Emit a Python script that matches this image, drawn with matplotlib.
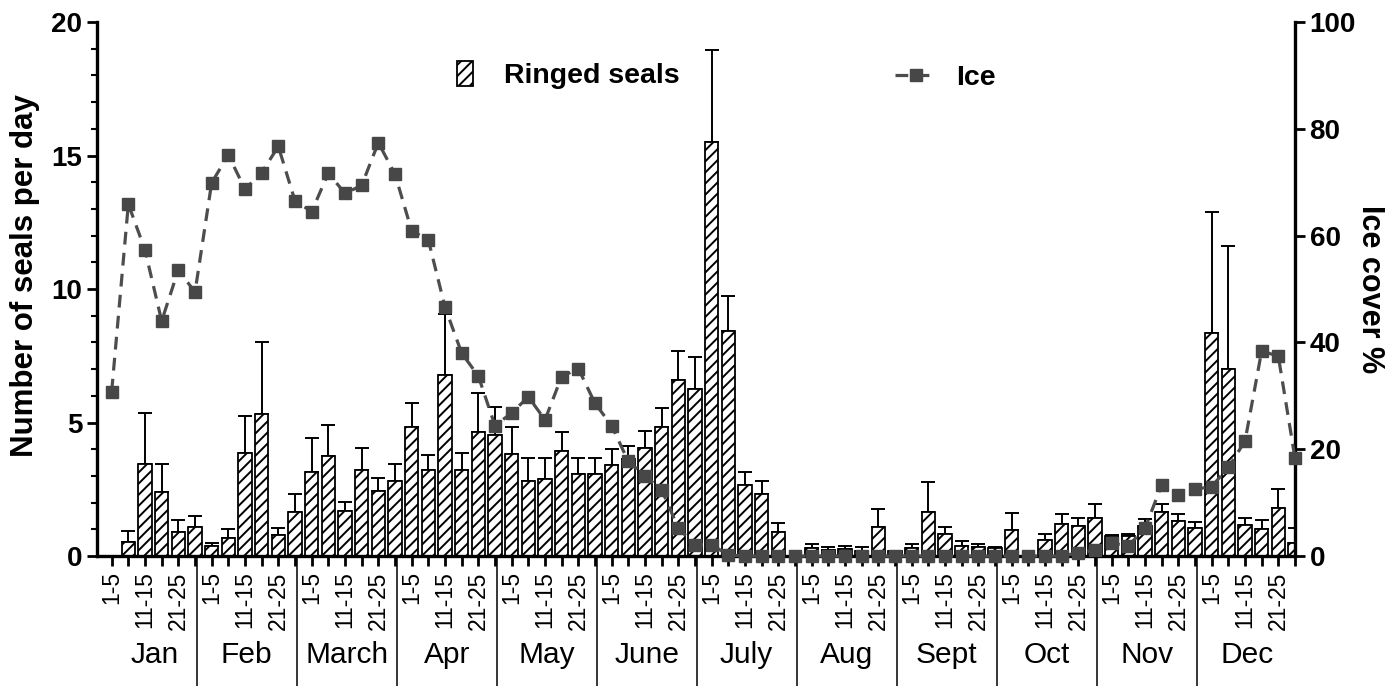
import numpy as np
import matplotlib
matplotlib.use("Agg")
import matplotlib.pyplot as plt
from matplotlib.patches import Patch
from matplotlib.lines import Line2D

months = ['Jan', 'Feb', 'March', 'Apr', 'May', 'June',
          'July', 'Aug', 'Sept', 'Oct', 'Nov', 'Dec']
pentads = ['1-5', '', '11-15', '', '21-25', '']

# mean number of ringed seals per day, per 5-day period
seals = [0.0, 0.54, 3.43, 2.41, 0.91, 1.10,
         0.36, 0.66, 3.85, 5.33, 0.79, 1.65,
         3.16, 3.75, 1.69, 3.21, 2.43, 2.81,
         4.83, 3.21, 6.78, 3.21, 4.66, 4.53,
         3.81, 2.81, 2.87, 3.93, 3.06, 3.08,
         3.41, 3.65, 4.03, 4.83, 6.59, 6.24,
         15.5, 8.43, 2.65, 2.31, 0.91, 0.0,
         0.29, 0.21, 0.25, 0.19, 1.09, 0.20,
         0.31, 1.66, 0.84, 0.37, 0.34, 0.30,
         0.96, 0.0, 0.59, 1.19, 1.12, 1.44,
         0.75, 0.75, 1.12, 1.66, 1.31, 1.06,
         8.36, 6.99, 1.15, 1.00, 1.79, 0.50]

# upper error (SD)
seals_sd = [0.0, 0.40, 1.91, 1.05, 0.43, 0.39,
            0.11, 0.35, 1.38, 2.70, 0.27, 0.68,
            1.27, 1.16, 0.34, 0.82, 0.48, 0.65,
            0.91, 0.57, 2.27, 0.64, 1.46, 1.05,
            1.02, 0.87, 0.79, 0.71, 0.60, 0.58,
            0.59, 0.47, 0.65, 0.73, 1.09, 1.21,
            3.45, 1.31, 0.50, 0.50, 0.34, 0.0,
            0.15, 0.14, 0.12, 0.15, 0.66, 0.0,
            0.13, 1.12, 0.26, 0.19, 0.12, 0.05,
            0.66, 0.0, 0.22, 0.37, 0.29, 0.52,
            0.04, 0.06, 0.25, 0.28, 0.25, 0.23,
            4.54, 4.61, 0.29, 0.34, 0.71, 0.54]

# ice cover in %
ice = [30.8, 65.9, 57.3, 44.0, 53.6, 49.4,
       69.9, 75.1, 68.7, 71.8, 76.7, 66.5,
       64.5, 71.7, 67.9, 69.4, 77.4, 71.5,
       60.9, 59.2, 46.6, 38.0, 33.7, 24.4,
       26.8, 29.8, 25.5, 33.6, 35.1, 28.6,
       24.4, 17.7, 15.0, 12.4, 5.2, 2.1,
       2.1, 0.2, 0.0, 0.0, 0.0, 0.0,
       0.0, 0.0, 0.0, 0.0, 0.0, 0.0,
       0.0, 0.0, 0.0, 0.0, 0.0, 0.0,
       0.0, 0.0, 0.0, 0.0, 0.6, 1.1,
       2.4, 1.9, 5.2, 13.3, 11.4, 12.5,
       13.0, 16.6, 21.5, 38.4, 37.4, 18.3]

plt.rcParams['font.family'] = ['Liberation Sans', 'DejaVu Sans']
plt.rcParams['hatch.linewidth'] = 1.4

fig = plt.figure(figsize=(13.9, 6.86), dpi=100)
ax = fig.add_axes([97 / 1390, 1 - 556 / 686, 1198 / 1390, 534 / 686])

x = np.arange(len(seals))
ax.bar(x, seals, width=0.8, color='white', edgecolor='black',
       linewidth=1.3, hatch='///', zorder=2)
ax.errorbar(x, seals, yerr=[np.zeros(len(seals)), seals_sd], fmt='none',
            ecolor='black', elinewidth=1.4, capsize=5, capthick=1.4, zorder=1)

ax.set_xlim(-0.88, 71.0)
ax.set_ylim(0, 20)
ax.set_yticks([0, 5, 10, 15, 20])
ax.set_yticks(np.arange(0, 21, 1), minor=True)
ax.set_xticks(x)
ax.set_xticklabels(pentads * 12, rotation=90, va='top', ha='center',
                   fontsize=16.5)
ax.tick_params(axis='x', length=7, width=2, pad=4)
ax.tick_params(axis='y', which='major', length=7, width=2, labelsize=20)
ax.tick_params(axis='y', which='minor', length=4, width=1.5)
for lab in ax.get_yticklabels():
    lab.set_fontweight('bold')

ax.spines['top'].set_visible(False)
ax.spines['right'].set_visible(False)
for s in ['left', 'bottom']:
    ax.spines[s].set_linewidth(2.4)

ax.set_ylabel('Number of seals per day', fontsize=22.5, fontweight='bold',
              va='center')
ax.yaxis.set_label_coords(-0.060, 0.525)

# month labels and separators below the axis
xt = ax.get_xaxis_transform()
for i, m in enumerate(months):
    cx = 2.6 if i == 0 else i * 6 + 2.1
    ax.text(cx, -0.185, m, transform=xt, ha='center', va='center',
            fontsize=21.5)
    if i > 0:
        ax.plot([i * 6 - 0.9, i * 6 - 0.9], [0, -0.25], transform=xt,
                color='black', linewidth=1.1, clip_on=False)

ax2 = ax.twinx()
ax2.plot(x, ice, color='#4d4d4d', linewidth=2.3, dashes=(4, 2.6),
         marker='s', markersize=8, markerfacecolor='#474747',
         markeredgecolor='#474747', clip_on=False, zorder=5)
ax2.set_ylim(0, 100)
ax2.set_yticks([0, 20, 40, 60, 80, 100])
ax2.tick_params(axis='y', length=7, width=2, labelsize=20)
for lab in ax2.get_yticklabels():
    lab.set_fontweight('bold')
ax2.spines['top'].set_visible(False)
ax2.spines['left'].set_visible(False)
ax2.spines['bottom'].set_visible(False)
ax2.spines['right'].set_linewidth(2.4)
ax2.set_ylabel('Ice cover %', fontsize=22, fontweight='bold', rotation=-90,
               va='center')
ax2.yaxis.set_label_coords(1.0626, 0.5)

# legends
seal_handle = Patch(facecolor='white', edgecolor='black', hatch='///',
                    linewidth=1.3)
ice_handle = Line2D([], [], color='#4d4d4d', linewidth=2.3, dashes=(4, 2.6),
                    marker='s', markersize=8, markerfacecolor='#474747',
                    markeredgecolor='#474747')
fig.legend([seal_handle], ['Ringed seals'], loc='center left',
           bbox_to_anchor=(443 / 1390, 1 - 75 / 686), frameon=False,
           borderpad=0, handlelength=0.55, handleheight=1.0,
           handletextpad=1.1, prop={'weight': 'bold', 'size': 20.5})
fig.legend([ice_handle], ['Ice'], loc='center left',
           bbox_to_anchor=(881 / 1390, 1 - 78 / 686), frameon=False,
           borderpad=0, handlelength=1.45, handletextpad=0.7,
           numpoints=1, prop={'weight': 'bold', 'size': 20.5})

fig.savefig('out.png', dpi=100)
